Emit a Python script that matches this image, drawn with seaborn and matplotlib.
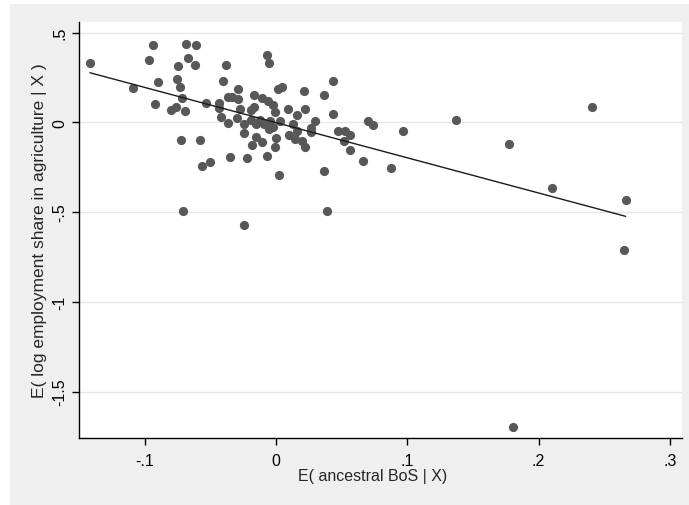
import matplotlib
matplotlib.use("Agg")
import matplotlib.pyplot as plt
import numpy as np
import pandas as pd
import seaborn as sns
from matplotlib.patches import Rectangle

# residuals
bos_resid = [
    -0.1417, -0.0939, -0.0965, -0.0685, -0.0612, -0.0668, -0.0749, -0.0619,
    -0.1091, -0.0896, -0.0756, -0.0731, -0.0716, -0.0919, -0.0797, -0.0759,
    -0.0691, -0.0533, -0.0406, -0.0379, -0.0071, -0.0051, 0.0019, 0.0046,
    -0.0292, -0.0434, -0.0434, -0.0363, -0.0337, -0.0287, -0.0274, -0.0415,
    -0.0363, -0.0297, -0.0241, -0.0241, -0.0169, -0.0109, -0.0059, -0.0021,
    -0.0190, -0.0171, -0.0008, -0.0190, -0.0152, -0.0118, -0.0091, -0.0046,
    -0.0053, -0.0023, -0.0154, -0.0002, -0.0179, -0.0103, -0.0004, -0.0720,
    -0.0579, -0.0350, -0.0221, -0.0067, -0.0506, -0.0565, 0.0023, -0.0711,
    0.0030, 0.0094, 0.0158, 0.0216, 0.0221, 0.0297, 0.0132, 0.0270,
    0.0263, 0.0097, 0.0145, 0.0158, 0.0198, 0.0221, 0.0368, 0.0438,
    0.0432, 0.0472, 0.0526, 0.0560, 0.0519, 0.0564, 0.0703, 0.0741,
    0.0970, 0.1371, 0.0663, 0.0876, 0.0368, 0.0385, 0.2407, 0.1775,
    0.2100, 0.2663, 0.2650, 0.1805, -0.0244,
]
agri_resid = [
    0.329, 0.432, 0.345, 0.435, 0.429, 0.358, 0.314, 0.321,
    0.189, 0.223, 0.240, 0.195, 0.137, 0.100, 0.070, 0.084,
    0.065, 0.109, 0.228, 0.321, 0.377, 0.332, 0.183, 0.197,
    0.184, 0.110, 0.080, 0.139, 0.139, 0.130, 0.074, 0.027,
    -0.004, 0.022, -0.012, -0.058, 0.150, 0.134, 0.120, 0.099,
    0.067, 0.084, 0.056, 0.013, -0.007, 0.013, -0.009, 0.009,
    -0.040, -0.029, -0.081, -0.085, -0.126, -0.108, -0.139, -0.101,
    -0.099, -0.191, -0.201, -0.186, -0.219, -0.242, -0.294, -0.494,
    0.009, 0.074, 0.043, 0.176, 0.074, 0.009, -0.012, -0.033,
    -0.054, -0.071, -0.091, -0.046, -0.104, -0.139, 0.152, 0.232,
    0.046, -0.048, -0.047, -0.070, -0.105, -0.153, 0.009, -0.015,
    -0.050, 0.013, -0.214, -0.256, -0.270, -0.497, 0.084, -0.121,
    -0.366, -0.431, -0.710, -1.698, -0.572,
]

xticks = [-0.1, 0, 0.1, 0.2, 0.3]
xticklabels = ["-.1", "0", ".1", ".2", ".3"]
yticks = [0.5, 0, -0.5, -1, -1.5]
yticklabels = [".5", "0", "-.5", "-1", "-1.5"]

df = pd.DataFrame({"bos": bos_resid, "agri": agri_resid})

sns.set_style("white")
plt.rcParams["font.family"] = ["Liberation Sans", "DejaVu Sans"]

fig = plt.figure(figsize=(6.89, 5.06), dpi=100, facecolor="white")
# grey graph region (Stata style), sits behind the axes
fig.patches.append(Rectangle((10 / 689, 0), 1 - 10 / 689, 1 - 5 / 506,
                             transform=fig.transFigure, facecolor="#efefef",
                             edgecolor="none", zorder=-10))
ax = fig.add_axes([79.3 / 689, 1 - 439 / 506, (681.7 - 79.3) / 689, (439 - 23) / 506])
ax.set_facecolor("white")

sns.regplot(data=df, x="bos", y="agri", ax=ax, ci=None,
            scatter_kws=dict(s=44, color="#585858", linewidths=0, alpha=1),
            line_kws=dict(color="#1a1a1a", lw=1.0))

ax.set_xlim(-0.1498, 0.309)
ax.set_ylim(-1.759, 0.5588)
ax.set_xticks(xticks)
ax.set_xticklabels(xticklabels)
ax.set_yticks(yticks)
ax.set_yticklabels(yticklabels, rotation=90, va="center")
ax.yaxis.grid(True, color="#e6e6e6", lw=1.0)
ax.xaxis.grid(False)
ax.set_axisbelow(True)

for side in ["top", "right"]:
    ax.spines[side].set_visible(False)
for side in ["left", "bottom"]:
    ax.spines[side].set_color("black")
    ax.spines[side].set_linewidth(1.0)

ax.tick_params(axis="both", direction="out", length=5, width=1, color="black",
               labelsize=11.5, labelcolor="black", left=True, bottom=True)
ax.tick_params(axis="x", pad=5.5)
ax.set_xlabel("E( ancestral BoS | X)", fontsize=11.5)
ax.xaxis.set_label_coords(0.4875, -0.073)
ax.set_ylabel("E( log employment share in agriculture | X )", fontsize=12.5, labelpad=4)

fig.savefig("out.png", dpi=100, facecolor=fig.get_facecolor())
